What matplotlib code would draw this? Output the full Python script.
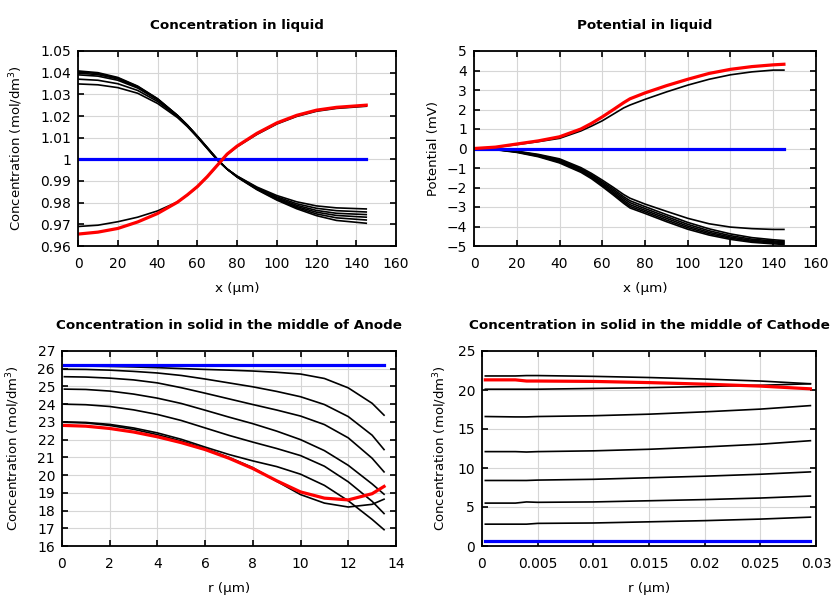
import matplotlib
matplotlib.use("Agg")
from matplotlib import pyplot as plt

plt.rcParams["font.family"] = "DejaVu Sans"
plt.rcParams["font.size"] = 10

# ---- Concentration in liquid ----
x_liq = [0, 10, 20, 30, 40, 50, 55, 60, 65, 70, 75, 80, 90, 100, 110, 120, 130, 145]
c_liq_black = [
    [1.0408, 1.0400, 1.0378, 1.0338, 1.0280, 1.0203, 1.0158, 1.0108, 1.0055, 1.0002, 0.9955, 0.9918, 0.9860, 0.9812, 0.9772, 0.9740, 0.9718, 0.9705],
    [1.0404, 1.0396, 1.0375, 1.0336, 1.0279, 1.0203, 1.0158, 1.0107, 1.0054, 1.0001, 0.9955, 0.9919, 0.9862, 0.9815, 0.9777, 0.9748, 0.9730, 0.9720],
    [1.0398, 1.0391, 1.0371, 1.0333, 1.0277, 1.0202, 1.0157, 1.0106, 1.0053, 1.0000, 0.9955, 0.9920, 0.9864, 0.9818, 0.9782, 0.9756, 0.9741, 0.9733],
    [1.0390, 1.0384, 1.0365, 1.0329, 1.0274, 1.0201, 1.0156, 1.0105, 1.0052, 0.9999, 0.9955, 0.9921, 0.9866, 0.9822, 0.9788, 0.9764, 0.9751, 0.9745],
    [1.0370, 1.0365, 1.0349, 1.0318, 1.0267, 1.0198, 1.0154, 1.0104, 1.0051, 0.9998, 0.9955, 0.9922, 0.9869, 0.9827, 0.9795, 0.9774, 0.9763, 0.9757],
    [1.0348, 1.0344, 1.0331, 1.0305, 1.0258, 1.0193, 1.0151, 1.0102, 1.0050, 0.9997, 0.9955, 0.9923, 0.9872, 0.9833, 0.9804, 0.9785, 0.9776, 0.9771],
    [0.9690, 0.9696, 0.9712, 0.9733, 0.9762, 0.9803, 0.9835, 0.9872, 0.9918, 0.9970, 1.0022, 1.0058, 1.0115, 1.0163, 1.0198, 1.0222, 1.0235, 1.0245],
]
c_liq_red = [0.9655, 0.9664, 0.9681, 0.9711, 0.9750, 0.9802, 0.9836, 0.9874, 0.9920, 0.9972, 1.0024, 1.0061, 1.0120, 1.0168, 1.0203, 1.0227, 1.0240, 1.0250]
c_liq_blue = [1.0] * len(x_liq)

# ---- Potential in liquid ----
x_pot = [0, 10, 20, 30, 40, 50, 55, 60, 65, 70, 73, 80, 90, 100, 110, 120, 130, 140, 145]
pot_black = [
    [0, 0.06, 0.20, 0.35, 0.52, 0.90, 1.15, 1.42, 1.75, 2.08, 2.23, 2.52, 2.90, 3.25, 3.55, 3.78, 3.93, 4.02, 4.02],
    [0, -0.03, -0.14, -0.30, -0.53, -0.98, -1.28, -1.62, -1.98, -2.36, -2.55, -2.85, -3.22, -3.58, -3.86, -4.03, -4.11, -4.15, -4.15],
    [0, -0.04, -0.15, -0.33, -0.58, -1.04, -1.35, -1.70, -2.07, -2.47, -2.68, -2.98, -3.39, -3.79, -4.12, -4.38, -4.57, -4.68, -4.72],
    [0, -0.04, -0.16, -0.35, -0.62, -1.09, -1.40, -1.77, -2.15, -2.56, -2.78, -3.08, -3.49, -3.89, -4.22, -4.47, -4.65, -4.74, -4.77],
    [0, -0.05, -0.17, -0.37, -0.66, -1.13, -1.45, -1.83, -2.23, -2.65, -2.88, -3.17, -3.58, -3.98, -4.30, -4.54, -4.71, -4.79, -4.82],
    [0, -0.05, -0.18, -0.39, -0.70, -1.17, -1.50, -1.89, -2.30, -2.73, -2.97, -3.25, -3.67, -4.06, -4.37, -4.60, -4.76, -4.84, -4.87],
    [0, -0.06, -0.20, -0.42, -0.74, -1.22, -1.55, -1.95, -2.37, -2.81, -3.05, -3.33, -3.75, -4.14, -4.44, -4.66, -4.81, -4.89, -4.92],
]
pot_red = [0, 0.07, 0.23, 0.39, 0.60, 1.00, 1.29, 1.62, 1.98, 2.35, 2.55, 2.85, 3.22, 3.55, 3.85, 4.06, 4.20, 4.29, 4.32]
pot_blue = [0.0] * len(x_pot)

# ---- Concentration in solid, anode ----
r_an = [0.1, 1, 2, 3, 4, 5, 6, 7, 8, 9, 10, 11, 12, 13, 13.5]
an_black = [
    [26.15, 26.15, 26.13, 26.10, 26.06, 26.01, 25.96, 25.92, 25.87, 25.80, 25.70, 25.45, 24.92, 24.05, 23.38],
    [25.97, 25.96, 25.92, 25.85, 25.76, 25.62, 25.42, 25.20, 24.98, 24.72, 24.42, 23.98, 23.30, 22.25, 21.44],
    [25.55, 25.53, 25.47, 25.37, 25.20, 24.93, 24.62, 24.30, 23.98, 23.67, 23.33, 22.85, 22.10, 20.95, 20.18],
    [24.85, 24.83, 24.74, 24.57, 24.34, 24.04, 23.66, 23.27, 22.90, 22.48, 22.00, 21.38, 20.55, 19.50, 18.92],
    [24.00, 23.97, 23.87, 23.68, 23.42, 23.08, 22.66, 22.24, 21.86, 21.50, 21.10, 20.50, 19.62, 18.52, 17.83],
    [23.00, 22.97, 22.86, 22.66, 22.38, 22.02, 21.58, 21.16, 20.80, 20.48, 20.05, 19.42, 18.55, 17.50, 16.92],
    [22.98, 22.94, 22.80, 22.58, 22.28, 21.92, 21.50, 21.00, 20.42, 19.65, 18.90, 18.42, 18.20, 18.35, 18.64],
]
an_red = [22.80, 22.76, 22.63, 22.43, 22.16, 21.83, 21.44, 20.95, 20.37, 19.68, 19.05, 18.70, 18.60, 18.95, 19.36]
an_blue = [26.2] * len(r_an)

# ---- Concentration in solid, cathode ----
r_ca = [0.0003, 0.003, 0.004, 0.005, 0.01, 0.015, 0.02, 0.025, 0.0295]
ca_black = [
    [21.8, 21.8, 21.85, 21.85, 21.75, 21.6, 21.4, 21.15, 20.8],
    [20.1, 20.1, 20.1, 20.1, 20.2, 20.3, 20.45, 20.6, 20.8],
    [16.6, 16.55, 16.55, 16.6, 16.7, 16.9, 17.2, 17.55, 18.0],
    [12.1, 12.1, 12.05, 12.1, 12.2, 12.4, 12.7, 13.05, 13.5],
    [8.4, 8.4, 8.4, 8.45, 8.55, 8.75, 8.95, 9.2, 9.5],
    [5.5, 5.5, 5.65, 5.6, 5.65, 5.8, 5.95, 6.15, 6.4],
    [2.8, 2.8, 2.8, 2.9, 2.95, 3.1, 3.25, 3.45, 3.7],
]
ca_red = [21.3, 21.3, 21.15, 21.15, 21.1, 20.95, 20.75, 20.5, 20.15]
ca_blue = [0.6] * len(r_ca)

fig = plt.figure(figsize=(8.4, 6.0), dpi=100)
ax1 = fig.add_axes([0.0929, 0.59, 0.3786, 0.325])
ax2 = fig.add_axes([0.5643, 0.59, 0.4071, 0.325])
ax3 = fig.add_axes([0.0738, 0.09, 0.3976, 0.325])
ax4 = fig.add_axes([0.5738, 0.09, 0.3976, 0.325])


def style(ax, title, xlabel, ylabel, ypad):
    ax.grid(True, color='#d6d6d6', linewidth=0.8)
    ax.set_axisbelow(True)
    ax.tick_params(direction='in', top=True, right=True, length=4, width=1.2)
    ax.tick_params(axis='x', pad=8)
    ax.tick_params(axis='y', pad=5)
    for s in ax.spines.values():
        s.set_linewidth(1.3)
    ax.set_title(title, fontweight='bold', fontsize=9.7, pad=16)
    ax.set_xlabel(xlabel, fontsize=9.7, labelpad=8)
    ax.set_ylabel(ylabel, fontsize=9.5, labelpad=ypad)


def draw(ax, x, blacks, red, blue):
    for b in blacks:
        ax.plot(x, b, color='black', linewidth=1.2)
    ax.plot(x, blue, color='blue', linewidth=2.3)
    ax.plot(x, red, color='red', linewidth=2.3)


# panel 1
draw(ax1, x_liq, c_liq_black, c_liq_red, c_liq_blue)
ax1.set_xlim(0, 160)
ax1.set_xticks(range(0, 161, 20))
ax1.set_ylim(0.96, 1.05)
ax1.set_yticks([0.96, 0.97, 0.98, 0.99, 1.0, 1.01, 1.02, 1.03, 1.04, 1.05])
ax1.set_yticklabels(['0.96', '0.97', '0.98', '0.99', '1', '1.01', '1.02', '1.03', '1.04', '1.05'])
style(ax1, 'Concentration in liquid', 'x (µm)', 'Concentration (mol/dm$^3$)', 11)

# panel 2
draw(ax2, x_pot, pot_black, pot_red, pot_blue)
ax2.set_xlim(0, 160)
ax2.set_xticks(range(0, 161, 20))
ax2.set_ylim(-5, 5)
ax2.set_yticks(range(-5, 6))
style(ax2, 'Potential in liquid', 'x (µm)', 'Potential (mV)', 5)

# panel 3
draw(ax3, r_an, an_black, an_red, an_blue)
ax3.set_xlim(0, 14)
ax3.set_xticks(range(0, 15, 2))
ax3.set_ylim(16, 27)
ax3.set_yticks(range(16, 28))
style(ax3, 'Concentration in solid in the middle of Anode', 'r (µm)', 'Concentration (mol/dm$^3$)', 11)

# panel 4
draw(ax4, r_ca, ca_black, ca_red, ca_blue)
ax4.set_xlim(0, 0.03)
ax4.set_xticks([0, 0.005, 0.01, 0.015, 0.02, 0.025, 0.03])
ax4.set_xticklabels(['0', '0.005', '0.01', '0.015', '0.02', '0.025', '0.03'])
ax4.set_ylim(0, 25)
ax4.set_yticks(range(0, 26, 5))
style(ax4, 'Concentration in solid in the middle of Cathode', 'r (µm)', 'Concentration (mol/dm$^3$)', 6)

fig.savefig('out.png', dpi=100)
